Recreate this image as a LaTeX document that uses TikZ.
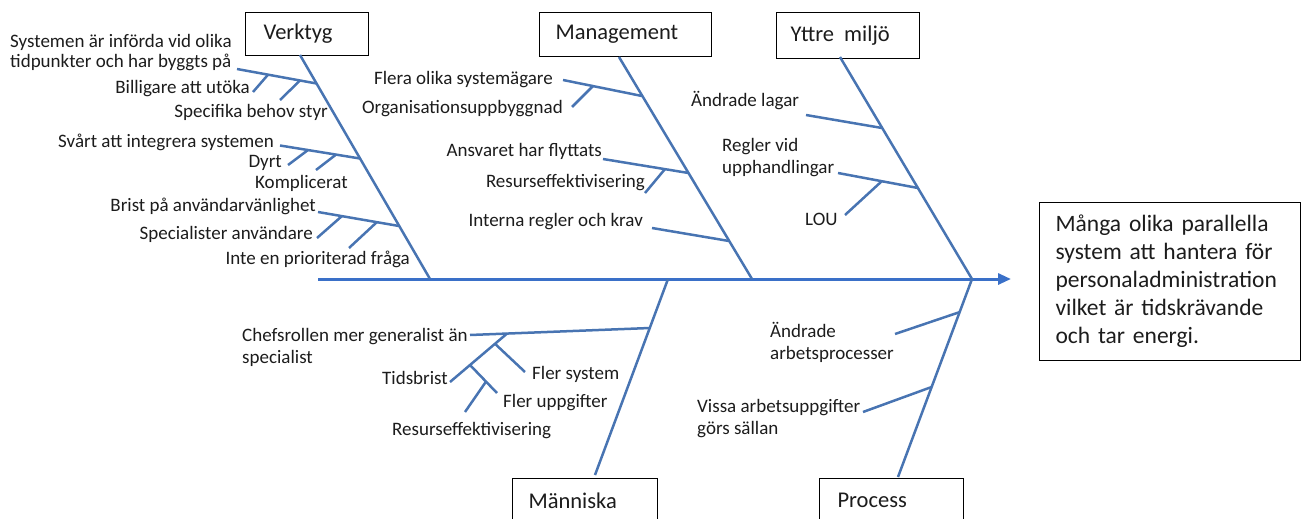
\documentclass[tikz,border=0pt]{standalone}
\usepackage{fontspec}
\setmainfont{Carlito}
\usetikzlibrary{arrows.meta,calc}
\definecolor{bonecol}{RGB}{72,116,178}
\definecolor{spinecol}{RGB}{58,112,200}
\definecolor{txt}{RGB}{28,28,28}
\begin{document}
\begin{tikzpicture}[x=1pt,y=-1pt,
  bonel/.style={draw=bonecol,line width=2.5pt},
  spinel/.style={draw=spinecol,line width=3pt,-{Triangle[length=13pt,width=11pt]}},
  catbox/.style={draw=black,line width=1.2pt,fill=white,anchor=north west,
    align=left,font=\fontsize{22.5}{27}\selectfont,text=txt,inner ysep=0pt},
  lbl/.style={font=\fontsize{19}{22}\selectfont,text=txt,inner sep=0pt,
    text height=0.68em,text depth=0.2em},
  lbltwo/.style={font=\fontsize{19}{22}\selectfont,text=txt,inner sep=0pt,align=left,anchor=west}]
\useasboundingbox (0,0) rectangle (1301,519);
\clip (0,0) rectangle (1301,519);

% ---- category boxes ----
\node[catbox,minimum width=123pt,minimum height=43pt,inner xsep=18pt,text width=87pt] (verktyg) at (245,12) {Verktyg};
\node[catbox,minimum width=172pt,minimum height=44pt,inner xsep=16pt,text width=140pt] (management) at (539,12) {Management};
\node[catbox,minimum width=143pt,minimum height=46pt,inner xsep=14pt,text width=115pt] (yttre) at (776,12) {Yttre\hspace{0.45em}miljö};
\node[catbox,minimum width=145pt,minimum height=44pt,inner xsep=16pt,text width=113pt] (manniska) at (512,478) {Människa};
\node[catbox,minimum width=144pt,minimum height=44pt,inner xsep=18pt,text width=108pt] (process) at (819,478) {Process};
\node[draw=black,line width=1.2pt,anchor=north west,minimum width=261pt,minimum height=158pt,
  inner xsep=16pt,inner ysep=0pt,text width=229pt,align=left,text=txt,
  font=\fontsize{23.5}{28}\selectfont] (effekt) at (1039,202)
  {Många olika parallella\\system att hantera för\\personaladministration\\vilket är tidskrävande\\och tar energi.};

% ---- spine ----
\coordinate (s0) at (318,279);
\coordinate (s1) at (1011,279);
\draw[spinel] (s0) -- (s1);

% ---- Verktyg ----
\coordinate (vT) at (300,55);
\coordinate (vB) at (430,279);
\draw[bonel] (vT) -- (vB);
\coordinate (v1s) at (237,69);   \coordinate (v1e) at (316.5,83.5);
\coordinate (v1at) at (268,74.7); \coordinate (v1af) at (253,92);
\coordinate (v1bt) at (300,80.5); \coordinate (v1bf) at (280,100);
\coordinate (v2s) at (280,145.5); \coordinate (v2e) at (360,158.5);
\coordinate (v2at) at (308,150);  \coordinate (v2af) at (288,165);
\coordinate (v2bt) at (336,154.6);\coordinate (v2bf) at (316,170);
\coordinate (v3s) at (318,212);   \coordinate (v3e) at (399,226);
\coordinate (v3at) at (342,216);  \coordinate (v3af) at (317,238);
\coordinate (v3bt) at (377,222);  \coordinate (v3bf) at (349,248);
\draw[bonel] (v1s) -- (v1e);
\draw[bonel] (v1af) -- (v1at);
\draw[bonel] (v1bf) -- (v1bt);
\draw[bonel] (v2s) -- (v2e);
\draw[bonel] (v2af) -- (v2at);
\draw[bonel] (v2bf) -- (v2bt);
\draw[bonel] (v3s) -- (v3e);
\draw[bonel] (v3af) -- (v3at);
\draw[bonel] (v3bf) -- (v3bt);
\node[lbltwo,font=\fontsize{19}{19.5}\selectfont] (lv1) at (10,52.5) {Systemen är införda vid olika\\tidpunkter och har byggts på};
\node[lbl,anchor=east] (lv1a) at (250,91) {Billigare att utöka};
\node[lbl,anchor=east] (lv1b) at (328,115) {Specifika behov styr};
\node[lbl,anchor=east] (lv2) at (274,145) {Svårt att integrera systemen};
\node[lbl,anchor=east] (lv2a) at (282,165) {Dyrt};
\node[lbl,anchor=west] (lv2b) at (255,186) {Komplicerat};
\node[lbl,anchor=east] (lv3) at (316,209) {Brist på användarvänlighet};
\node[lbl,anchor=east] (lv3a) at (313,237) {Specialister användare};
\node[lbl,anchor=east] (lv3b) at (410,262) {Inte en prioriterad fråga};

% ---- Management ----
\coordinate (mT) at (619,57);
\coordinate (mB) at (752,279);
\draw[bonel] (mT) -- (mB);
\coordinate (m1s) at (563,80);   \coordinate (m1e) at (642,96);
\coordinate (m1at) at (593,86);  \coordinate (m1af) at (572,107);
\coordinate (m2s) at (603,159);  \coordinate (m2e) at (688.5,173);
\coordinate (m2at) at (665,169); \coordinate (m2af) at (645,193);
\coordinate (m3s) at (652,228);  \coordinate (m3e) at (729,241);
\draw[bonel] (m1s) -- (m1e);
\draw[bonel] (m1af) -- (m1at);
\draw[bonel] (m2s) -- (m2e);
\draw[bonel] (m2af) -- (m2at);
\draw[bonel] (m3s) -- (m3e);
\node[lbl,anchor=east] (lm1) at (553,82) {Flera olika systemägare};
\node[lbl,anchor=east] (lm1a) at (563,111) {Organisationsuppbyggnad};
\node[lbl,anchor=east] (lm2) at (602,154) {Ansvaret har flyttats};
\node[lbl,anchor=east] (lm2a) at (645,185) {Resurseffektivisering};
\node[lbl,anchor=east] (lm3) at (643,224) {Interna regler och krav};

% ---- Yttre miljö ----
\coordinate (yT) at (840,57);
\coordinate (yB) at (972,279);
\draw[bonel] (yT) -- (yB);
\coordinate (y1s) at (806,115);  \coordinate (y1e) at (882,128);
\coordinate (y2s) at (838,173);  \coordinate (y2e) at (918,188);
\coordinate (y2at) at (882,181); \coordinate (y2af) at (845,215);
\draw[bonel] (y1s) -- (y1e);
\draw[bonel] (y2s) -- (y2e);
\draw[bonel] (y2af) -- (y2at);
\node[lbl,anchor=west] (ly1) at (691,104) {Ändrade lagar};
\node[lbltwo] (ly2) at (722,158) {Regler vid\\upphandlingar};
\node[lbl,anchor=west] (ly2a) at (805,223) {LOU};

% ---- Människa ----
\coordinate (hB) at (595,475);
\coordinate (hT) at (668,279);
\draw[bonel] (hB) -- (hT);
\coordinate (h1s) at (470,335);    \coordinate (h1e) at (650,328);
\coordinate (h1at) at (507,333.6); \coordinate (h1af) at (450,382);
\coordinate (h1bt) at (495,343.8); \coordinate (h1bf) at (525,372);
\coordinate (h1ct) at (470,365);   \coordinate (h1cf) at (497,393);
\coordinate (h1dt) at (486,381.6); \coordinate (h1df) at (465,412);
\draw[bonel] (h1s) -- (h1e);
\draw[bonel] (h1af) -- (h1at);
\draw[bonel] (h1bt) -- (h1bf);
\draw[bonel] (h1ct) -- (h1cf);
\draw[bonel] (h1df) -- (h1dt);
\node[lbltwo] (lh1) at (242,347.5) {Chefsrollen mer generalist än\\specialist};
\node[lbl,anchor=east] (lh1a) at (448,382) {Tidsbrist};
\node[lbl,anchor=west] (lh1b) at (532,377) {Fler system};
\node[lbl,anchor=west] (lh1c) at (503,405) {Fler uppgifter};
\node[lbl,anchor=west] (lh1d) at (392,433) {Resurseffektivisering};

% ---- Process ----
\coordinate (pB) at (898,477);
\coordinate (pT) at (972,279);
\draw[bonel] (pB) -- (pT);
\coordinate (p1f) at (895,334);   \coordinate (p1e) at (960,312);
\coordinate (p2f) at (863,412);   \coordinate (p2e) at (931.6,387);
\draw[bonel] (p1f) -- (p1e);
\draw[bonel] (p2f) -- (p2e);
\node[lbltwo] (lp1) at (770,342) {Ändrade\\arbetsprocesser};
\node[lbltwo] (lp2) at (697,419) {Vissa arbetsuppgifter\\görs sällan};
\end{tikzpicture}
\end{document}
